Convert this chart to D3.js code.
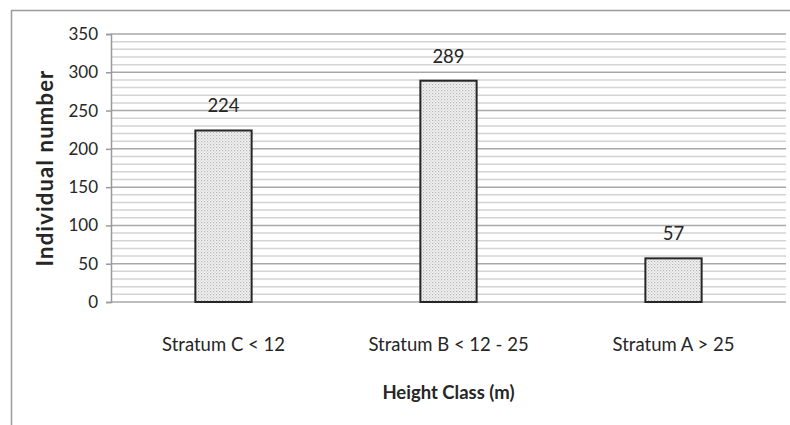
<!DOCTYPE html>
<html>
<head>
<meta charset="utf-8">
<script src="https://cdn.jsdelivr.net/npm/d3@7"></script>
<style>
  html, body { margin: 0; padding: 0; background: #fff; }
  svg { display: block; }
  text { font-family: Lato, "Open Sans", sans-serif; fill: #262626; }
</style>
</head>
<body>
<svg id="chart" width="790" height="425"></svg>
<script>
// Tree counts per height stratum
const categories = ["Stratum C < 12", "Stratum B < 12 - 25", "Stratum A > 25"];
const values = [224, 289, 57];
const yTicks = [0, 50, 100, 150, 200, 250, 300, 350];
const yMinorStep = 10;
const xTitle = "Height Class (m)";
const yTitle = "Individual number";

const W = 790, H = 425;
const margin = { top: 34, right: 4, bottom: 123, left: 111 };
const svg = d3.select("#chart");

// Outer chart frame (top and left edges)
svg.append("path")
  .attr("d", `M11.5,${H} V10.5 H${W}`)
  .attr("fill", "none")
  .attr("stroke", "#9a9a9a")
  .attr("stroke-width", 1.5);

// Dotted fill for bars
const defs = svg.append("defs");
const pat = defs.append("pattern")
  .attr("id", "dots")
  .attr("patternUnits", "userSpaceOnUse")
  .attr("width", 3).attr("height", 3);
pat.append("rect").attr("width", 3).attr("height", 3).attr("fill", "#f2f2f2");
pat.append("rect").attr("x", 0).attr("y", 0).attr("width", 1.2).attr("height", 1.2).attr("fill", "#b4b4b4");
pat.append("rect").attr("x", 1.5).attr("y", 1.5).attr("width", 1.2).attr("height", 1.2).attr("fill", "#cdcdcd");

const x = d3.scaleBand()
  .domain(categories)
  .range([margin.left, W - margin.right])
  .paddingInner(0.75)
  .paddingOuter(0.375);

const y = d3.scaleLinear()
  .domain([0, 350])
  .range([H - margin.bottom, margin.top]);

// Minor gridlines every 10
const minor = d3.range(0, 351, yMinorStep).filter(v => v % 50 !== 0);
svg.append("g").selectAll("line").data(minor).join("line")
  .attr("x1", margin.left).attr("x2", W - margin.right)
  .attr("y1", d => y(d)).attr("y2", d => y(d))
  .attr("stroke", "#d3d3d3").attr("stroke-width", 1.5);

// Major gridlines every 50
svg.append("g").selectAll("line").data(yTicks).join("line")
  .attr("x1", margin.left).attr("x2", W - margin.right)
  .attr("y1", d => y(d)).attr("y2", d => y(d))
  .attr("stroke", "#a8a8a8").attr("stroke-width", 1.5);

// Y axis
const yAxis = svg.append("g")
  .attr("transform", `translate(${margin.left},0)`)
  .call(d3.axisLeft(y).tickValues(yTicks).tickSize(5).tickPadding(8));
yAxis.select(".domain").attr("stroke", "#9a9a9a").attr("stroke-width", 1.5);
yAxis.selectAll(".tick line").attr("stroke", "#9a9a9a").attr("stroke-width", 1.5);
yAxis.selectAll(".tick text")
  .attr("font-family", "Lato, sans-serif")
  .attr("font-size", 17)
  .attr("fill", "#262626");

// Bars
svg.append("g").selectAll("rect").data(values).join("rect")
  .attr("x", (d, i) => x(categories[i]))
  .attr("width", x.bandwidth())
  .attr("y", d => y(d))
  .attr("height", d => y(0) - y(d))
  .attr("fill", "url(#dots)")
  .attr("stroke", "#262626")
  .attr("stroke-width", 2);

// Value labels
svg.append("g").selectAll("text").data(values).join("text")
  .attr("x", (d, i) => x(categories[i]) + x.bandwidth() / 2)
  .attr("y", d => y(d) - 18)
  .attr("text-anchor", "middle")
  .attr("font-size", 18.5)
  .text(d => d);

// Category labels
svg.append("g").selectAll("text").data(categories).join("text")
  .attr("x", d => x(d) + x.bandwidth() / 2)
  .attr("y", 351)
  .attr("text-anchor", "middle")
  .attr("font-size", 18.5)
  .text(d => d);

// Axis titles
svg.append("text")
  .attr("x", (margin.left + W - margin.right) / 2)
  .attr("y", 399)
  .attr("text-anchor", "middle")
  .attr("font-size", 18.5)
  .attr("font-weight", "bold")
  .attr("fill", "#111")
  .text(xTitle);

svg.append("text")
  .attr("transform", `translate(53,${(y(0) + y(350)) / 2}) rotate(-90)`)
  .attr("text-anchor", "middle")
  .attr("font-size", 22)
  .attr("font-weight", "bold")
  .attr("letter-spacing", 1.2)
  .attr("fill", "#111")
  .text(yTitle);
</script>
</body>
</html>
